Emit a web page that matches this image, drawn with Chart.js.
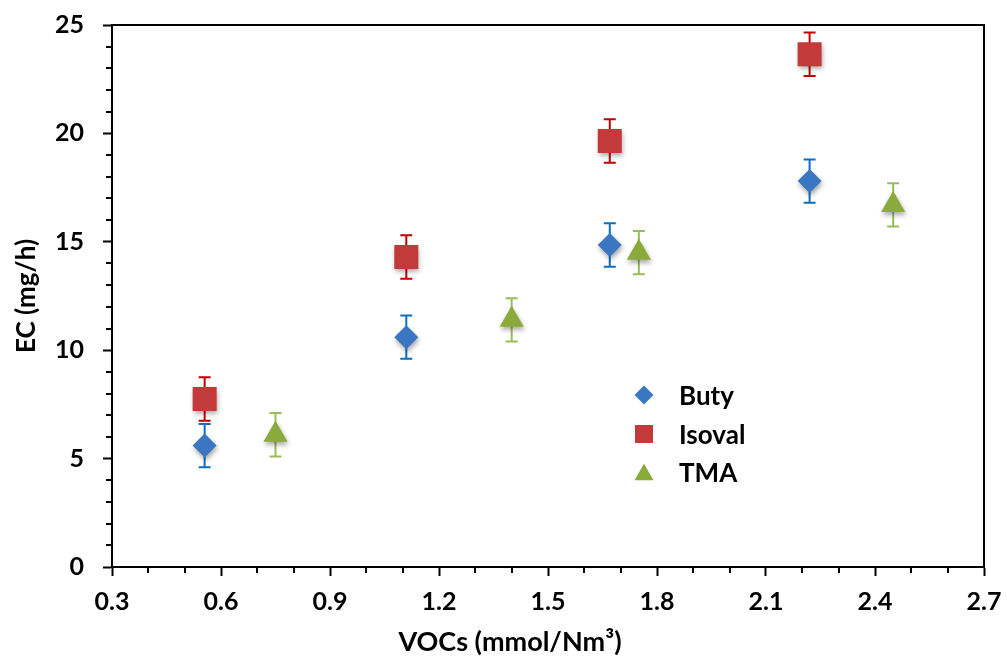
<!DOCTYPE html>
<html>
<head>
<meta charset="utf-8">
<script src="https://cdn.jsdelivr.net/npm/chart.js@4.4.0/dist/chart.umd.min.js"></script>
<style>
  html, body { margin: 0; padding: 0; background: #fff; }
  #caixa { width: 1007px; height: 657px; }
</style>
</head>
<body>
<div id="caixa"><canvas id="grafico1"></canvas></div>
<script>
const ctx = document.getElementById('grafico1');

// dados
const nomes = ['Buty', 'Isoval', 'TMA'];
const butyX = [0.555, 1.11, 1.67, 2.22];
const butyY = [5.6, 10.6, 14.85, 17.8];
const isovalX = [0.555, 1.11, 1.67, 2.22];
const isovalY = [7.75, 14.3, 19.65, 23.65];
const tmaX = [0.75, 1.40, 1.75, 2.45];
const tmaY = [6.1, 11.4, 14.5, 16.7];
const erroButy = [1, 1, 1, 1];
const erroIsoval = [1, 1, 1, 1];
const erroTma = [1, 1, 1, 1];
const marcasX = [0.3, 0.6, 0.9, 1.2, 1.5, 1.8, 2.1, 2.4, 2.7];
const marcasY = [0, 5, 10, 15, 20, 25];

const fonte = 'Lato';
const ehMarcaX = v => marcasX.some(m => Math.abs(m - v) < 1e-6);
const ehMarcaY = v => marcasY.some(m => Math.abs(m - v) < 1e-6);

const pontos = (xs, ys) => xs.map((x, i) => ({ x: x, y: ys[i] }));

// barras de erro atras dos marcadores
const barrasErro = {
  id: 'barrasErro',
  beforeDatasetsDraw(chart) {
    const c = chart.ctx;
    const sx = chart.scales.x, sy = chart.scales.y;
    chart.data.datasets.forEach(ds => {
      c.save();
      c.strokeStyle = ds.corErro;
      c.lineWidth = 2;
      ds.data.forEach((p, i) => {
        const px = sx.getPixelForValue(p.x);
        const yTop = sy.getPixelForValue(p.y + ds.erros[i]);
        const yBot = sy.getPixelForValue(p.y - ds.erros[i]);
        c.beginPath();
        c.moveTo(px, yTop); c.lineTo(px, yBot);
        c.moveTo(px - 6, yTop); c.lineTo(px + 6, yTop);
        c.moveTo(px - 6, yBot); c.lineTo(px + 6, yBot);
        c.stroke();
      });
      c.restore();
    });
  }
};

// sombra dos marcadores
const sombra = {
  id: 'sombra',
  beforeDatasetDraw(chart) {
    const c = chart.ctx;
    c.save();
    c.shadowColor = 'rgba(0,0,0,0.35)';
    c.shadowBlur = 5;
    c.shadowOffsetX = 1;
    c.shadowOffsetY = 3;
  },
  afterDatasetDraw(chart) {
    chart.ctx.restore();
  }
};

function desenhaMarca(c, estilo, x, y, r) {
  c.beginPath();
  if (estilo === 'rectRot') {
    c.moveTo(x - r, y); c.lineTo(x, y - r); c.lineTo(x + r, y); c.lineTo(x, y + r);
  } else if (estilo === 'rect') {
    const s = r * Math.SQRT1_2;
    c.rect(x - s, y - s, 2 * s, 2 * s);
  } else {
    const h = r * Math.sqrt(3) / 2;
    c.moveTo(x, y - r * 0.75); c.lineTo(x + h, y + r * 0.75); c.lineTo(x - h, y + r * 0.75);
  }
  c.closePath();
  c.fill();
}

// moldura, tracos menores, legenda e titulos
const extras = {
  id: 'extras',
  afterDraw(chart) {
    const c = chart.ctx;
    const a = chart.chartArea;
    const sx = chart.scales.x, sy = chart.scales.y;
    c.save();
    c.strokeStyle = '#000';
    c.lineWidth = 2;
    c.beginPath();
    c.moveTo(a.left, a.top); c.lineTo(a.right, a.top); c.lineTo(a.right, a.bottom);
    // tracos menores
    sx.ticks.forEach(t => {
      if (!ehMarcaX(t.value)) {
        const px = Math.round(sx.getPixelForValue(t.value));
        c.moveTo(px, a.bottom); c.lineTo(px, a.bottom + 6);
      }
    });
    sy.ticks.forEach(t => {
      if (!ehMarcaY(t.value)) {
        const py = Math.round(sy.getPixelForValue(t.value));
        c.moveTo(a.left - 6, py); c.lineTo(a.left, py);
      }
    });
    c.stroke();

    // legenda
    const linhasY = [395, 434, 472];
    c.font = 'bold 26px ' + fonte;
    c.textBaseline = 'middle';
    c.textAlign = 'left';
    chart.data.datasets.forEach((ds, i) => {
      c.fillStyle = ds.backgroundColor;
      const r = ds.pointStyle === 'rect' ? 12.7 : (ds.pointStyle === 'triangle' ? 11 : 9.5);
      desenhaMarca(c, ds.pointStyle, 644, linhasY[i], r);
      c.fillStyle = '#000';
      c.fillText(ds.label, 679, linhasY[i] + 2);
    });

    // titulos dos eixos
    c.fillStyle = '#000';
    c.font = 'bold 27px ' + fonte;
    c.textAlign = 'center';
    c.fillText('VOCs (mmol/Nm\u00B3)', 510, 642);
    c.font = 'bold 26px ' + fonte;
    c.translate(27, (a.top + a.bottom) / 2);
    c.rotate(-Math.PI / 2);
    c.fillText('EC (mg/h)', 0, 0);
    c.restore();
  }
};

let grafico = new Chart(ctx, {
  type: 'scatter',
  data: {
    datasets: [{
      label: nomes[0],
      data: pontos(butyX, butyY),
      erros: erroButy,
      corErro: '#0a6fc2',
      backgroundColor: '#3b76c2',
      borderWidth: 0,
      pointStyle: 'rectRot',
      pointRadius: 12,
      pointHoverRadius: 12
    }, {
      label: nomes[1],
      data: pontos(isovalX, isovalY),
      erros: erroIsoval,
      corErro: '#c00000',
      backgroundColor: '#c23a3a',
      borderWidth: 0,
      pointStyle: 'rect',
      pointRadius: 17,
      pointHoverRadius: 17
    }, {
      label: nomes[2],
      data: pontos(tmaX, tmaY),
      erros: erroTma,
      corErro: '#9bbb59',
      backgroundColor: '#8aab3c',
      borderWidth: 0,
      pointStyle: 'triangle',
      pointRadius: 14,
      pointHoverRadius: 14
    }]
  },
  options: {
    responsive: true,
    maintainAspectRatio: false,
    animation: false,
    layout: { padding: { top: 25, right: 23, left: 0, bottom: 0 } },
    plugins: {
      legend: { display: false },
      tooltip: { enabled: false }
    },
    scales: {
      x: {
        type: 'linear',
        min: 0.3,
        max: 2.7,
        afterFit: s => { s.height = 90; s.paddingLeft = 0; s.paddingRight = 0; },
        border: { color: '#000', width: 2 },
        grid: {
          drawOnChartArea: false,
          tickLength: 9,
          tickWidth: 2,
          tickColor: c => ehMarcaX(c.tick.value) ? '#000' : 'rgba(0,0,0,0)'
        },
        ticks: {
          stepSize: 0.1,
          autoSkip: false,
          maxRotation: 0,
          padding: 11,
          color: '#000',
          font: { family: fonte, size: 25, weight: 'bold' },
          callback: v => ehMarcaX(v) ? v.toFixed(1) : ''
        }
      },
      y: {
        min: 0,
        max: 25,
        afterFit: s => { s.width = 112; s.paddingTop = 0; s.paddingBottom = 0; },
        border: { color: '#000', width: 2 },
        grid: {
          drawOnChartArea: false,
          tickLength: 9,
          tickWidth: 2,
          tickColor: c => ehMarcaY(c.tick.value) ? '#000' : 'rgba(0,0,0,0)'
        },
        ticks: {
          stepSize: 1,
          autoSkip: false,
          padding: 19,
          color: '#000',
          font: { family: fonte, size: 25, weight: 'bold' },
          callback: v => ehMarcaY(v) ? v : ''
        }
      }
    }
  },
  plugins: [barrasErro, sombra, extras]
});
</script>
</body>
</html>
